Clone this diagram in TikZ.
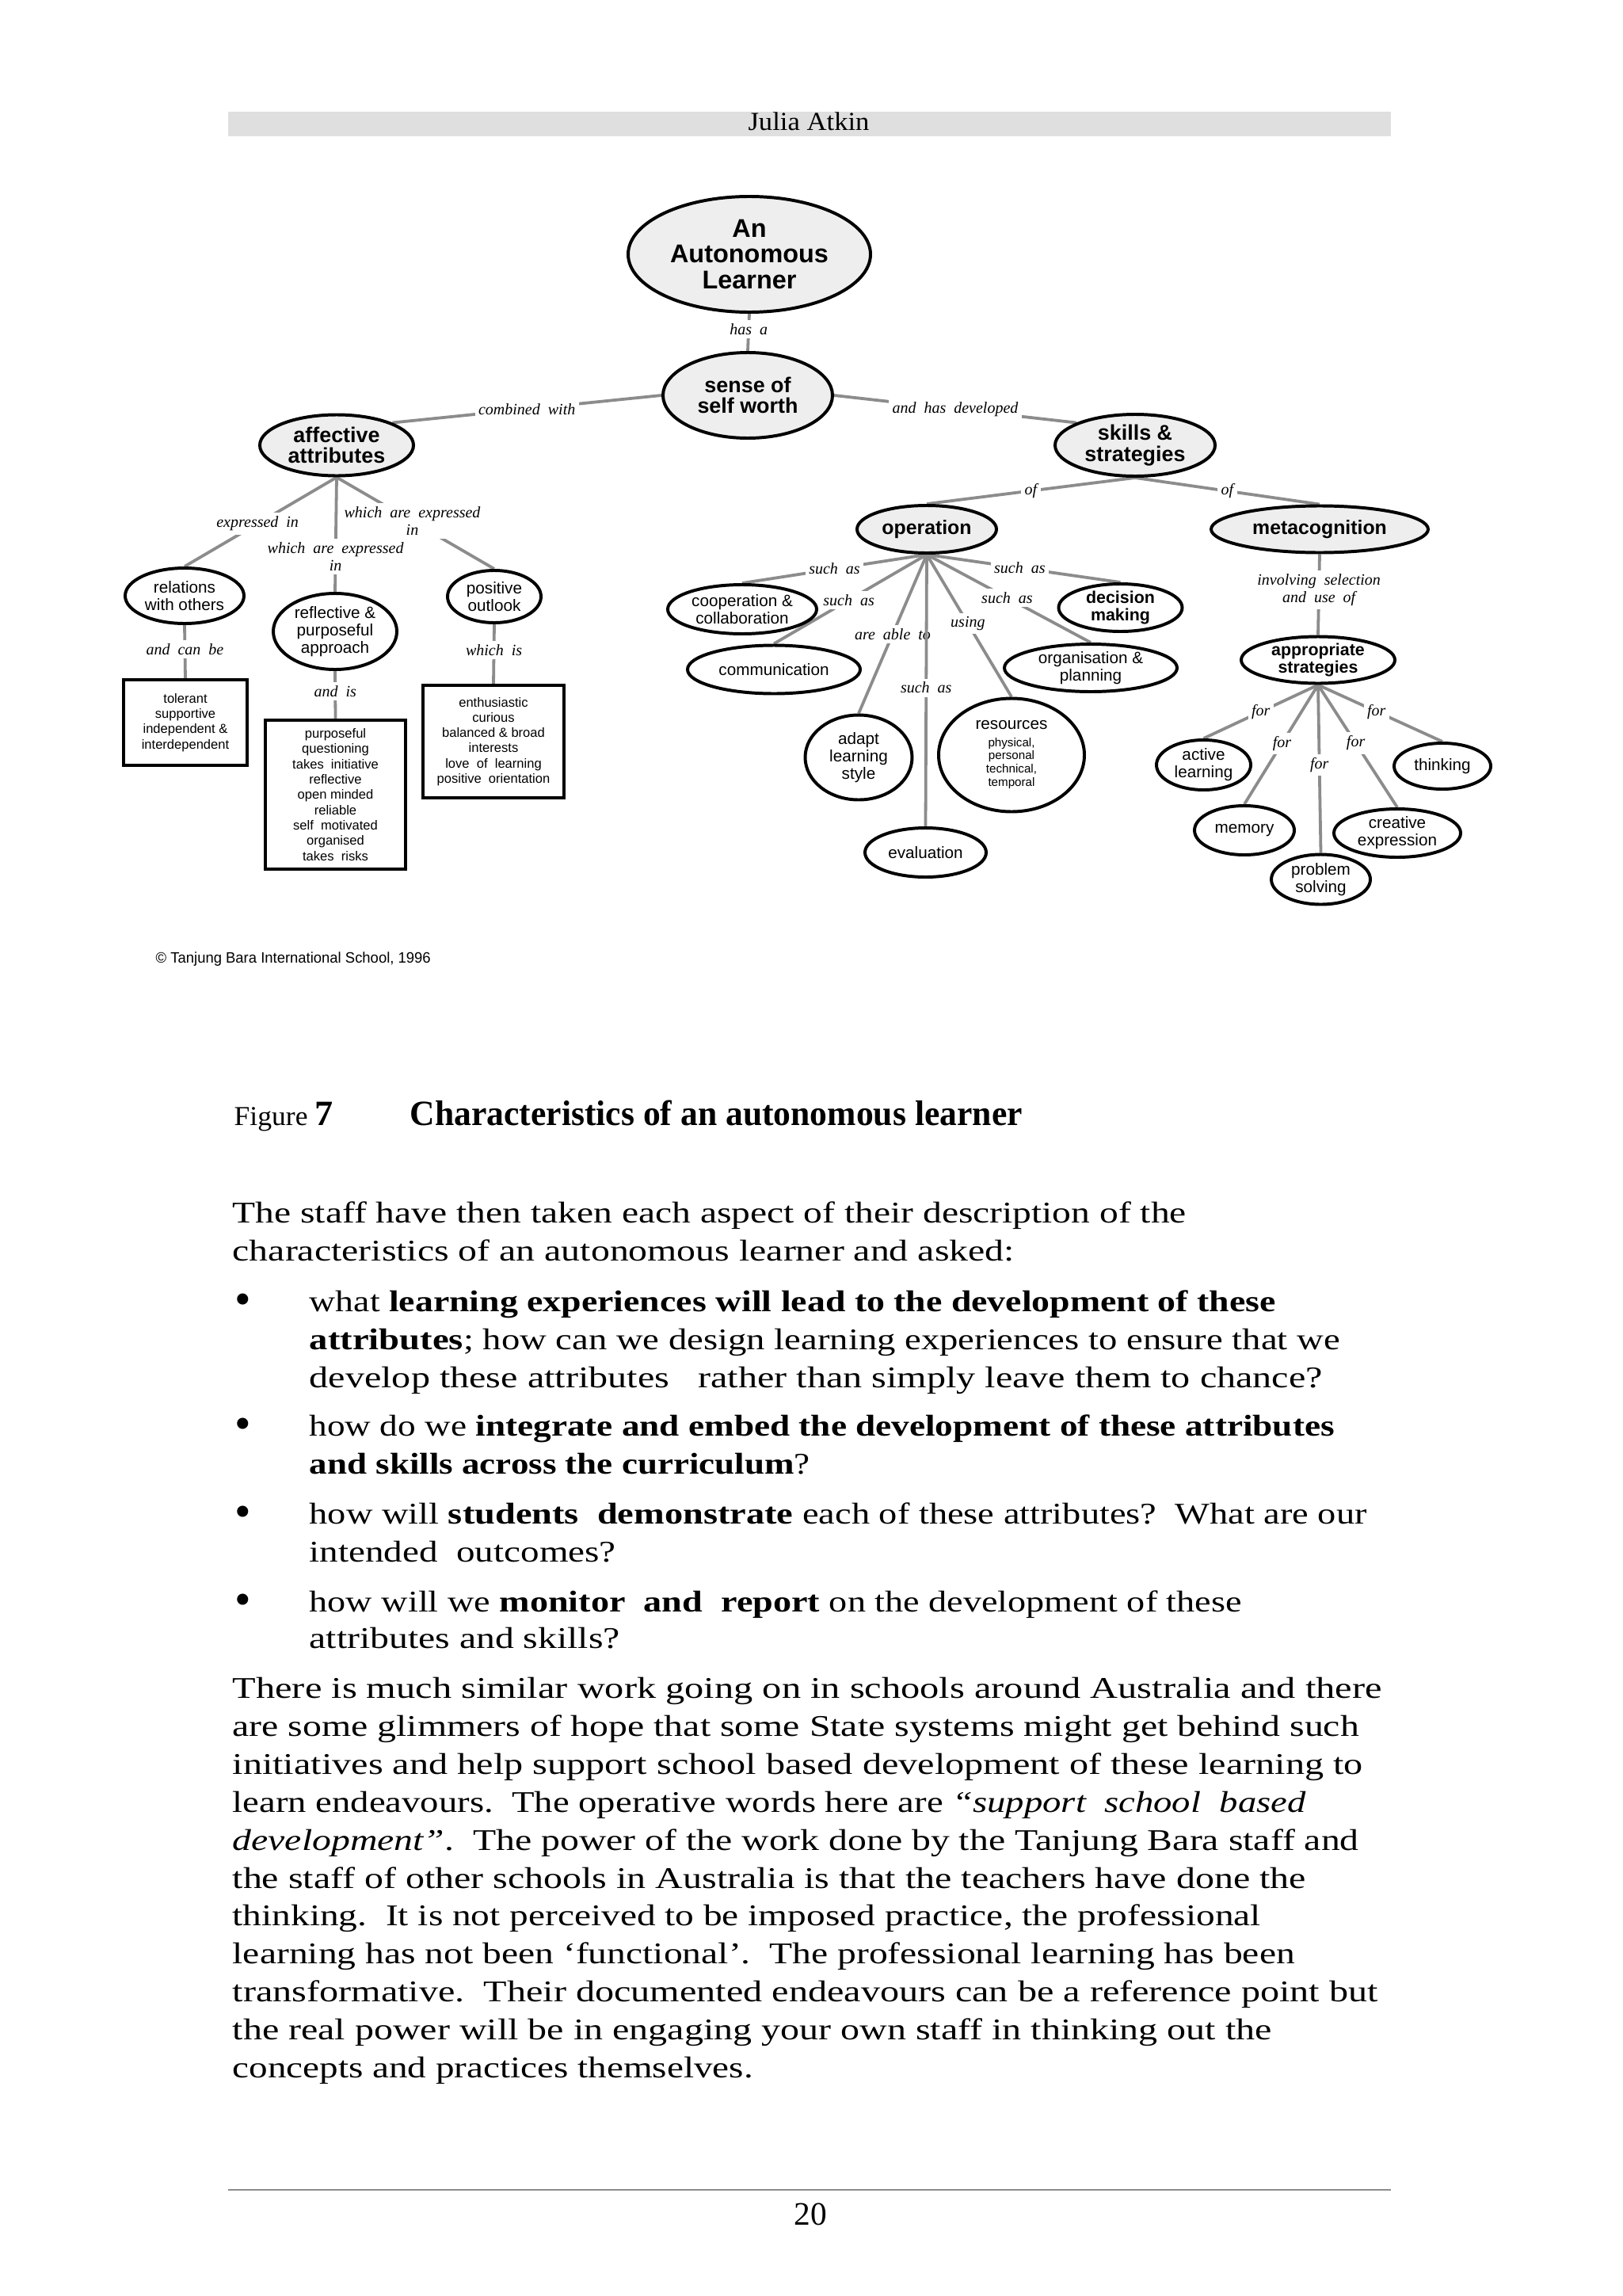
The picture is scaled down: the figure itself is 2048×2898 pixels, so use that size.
\documentclass[tikz,border=0pt]{standalone}
\usepackage{graphicx}
\usepackage{fontspec}
\setmainfont{Liberation Serif}
\setsansfont{Liberation Sans}
\usetikzlibrary{shapes.geometric,backgrounds}
\newlength\unitpx
\setlength\unitpx{0.29pt}
\newcommand\fitw[2]{\resizebox{#1\unitpx}{\height}{#2}}
\newcommand\bigbul{\raisebox{-1.3pt}{\scalebox{1.55}{\textbullet}}}
\definecolor{lnc}{gray}{0.55}
\definecolor{gfill}{gray}{0.935}
\definecolor{band}{gray}{0.875}
\definecolor{rulec}{gray}{0.55}
\begin{document}
\begin{tikzpicture}[x=0.29pt,y=-0.29pt,
  rxy/.style 2 args={minimum width=#1*0.58pt, minimum height=#2*0.58pt},
  ell/.style={ellipse, draw=black, line width=1.15pt, inner sep=-1.5pt, align=center},
  gell/.style={ell, fill=gfill},
  well/.style={ell, fill=white},
  ftop/.style={font=\fontsize{9.4}{9.3}\selectfont\sffamily\bfseries},
  fmid/.style={font=\fontsize{7.8}{7.6}\selectfont\sffamily\bfseries},
  fop/.style={font=\fontsize{7.2}{7.2}\selectfont\sffamily\bfseries},
  fsm/.style={font=\fontsize{6}{6.4}\selectfont\sffamily},
  fsmb/.style={font=\fontsize{6.2}{6.4}\selectfont\sffamily\bfseries},
  bx/.style={draw=black, line width=1.15pt, fill=white, inner sep=0pt, align=center, font=\fontsize{4.8}{5.6}\selectfont\sffamily},
  con/.style={draw=lnc, line width=1.1pt},
  lbl/.style={fill=white, inner sep=1.3pt, align=center, font=\fontsize{5.8}{6.4}\selectfont\itshape},
  bodyt/.style={anchor=base west, inner sep=0pt, font=\fontsize{11}{13}\selectfont},
]
\useasboundingbox (0,0) rectangle (2048,2898);

% header
\node[fill=band, minimum width=1468*0.29pt, minimum height=31*0.29pt, inner sep=0pt] (hdr) at (1022,156.5) {};
\node[anchor=base, inner sep=0pt, font=\fontsize{9.5}{10}\selectfont] (hname) at (1021,165) {\fitw{153}{Julia Atkin}};

% main concepts
\node[gell, rxy={153}{73}, ftop] (N0) at (946,321) {An\\Autonomous\\Learner};
\node[gell, rxy={107}{54}, fmid] (N1) at (944,499) {sense of\\self worth};
\node[gell, rxy={97}{38.5}, fmid] (N2) at (425,562) {affective\\attributes};
\node[gell, rxy={101}{39}, fmid] (N3) at (1433,562) {skills \&\\strategies};

% affective branch
\node[well, rxy={75}{35}, fsm] (R1) at (233,752) {relations\\with others};
\node[well, rxy={78}{48}, fsm] (R2) at (423,797) {reflective \&\\purposeful\\approach};
\node[well, rxy={59}{33}, fsm] (R3) at (624,753) {positive\\outlook};
\node[bx, minimum width=156*0.29pt, minimum height=108*0.29pt] (B1) at (234,912) {tolerant\\supportive\\independent \&\\interdependent};
\node[bx, minimum width=177*0.29pt, minimum height=188*0.29pt] (B2) at (423.5,1003) {purposeful\\questioning\\takes\ \ initiative\\reflective\\open minded\\reliable\\self\ \ motivated\\organised\\takes\ \ risks};
\node[bx, minimum width=178*0.29pt, minimum height=142*0.29pt] (B3) at (623,936) {enthusiastic\\curious\\balanced \& broad\\interests\\love\ \ of\ \ learning\\positive\ \ orientation};

% skills branch
\node[gell, rxy={88}{30}, fop] (O) at (1170,668) {operation};
\node[gell, rxy={137}{29.5}, fop] (M) at (1666,668) {metacognition};
\node[well, rxy={94}{31}, fsm] (O1) at (937,769) {cooperation \&\\collaboration};
\node[well, rxy={109}{30.5}, fsm] (O2) at (977,845) {communication};
\node[well, rxy={67.5}{53.5}, fsm] (O3) at (1084,956) {adapt\\learning\\style};
\node[well, rxy={76.5}{31}, fsm] (O4) at (1168.5,1076) {evaluation};
\node[well, rxy={92}{71.5}, font=\fontsize{4.4}{4.9}\selectfont\sffamily] (O5) at (1277,953) {\begin{tabular}{@{}c@{}}{\fontsize{6}{6}\selectfont resources}\\[1.5pt]physical,\\personal\\technical,\\temporal\end{tabular}};
\node[well, rxy={109}{30}, fsm] (O6) at (1377,843) {organisation \&\\planning};
\node[well, rxy={78}{30}, fsmb] (O7) at (1414.5,767) {decision\\making};

\node[well, rxy={97}{29.5}, fsmb] (A) at (1664,833) {appropriate\\strategies};
\node[well, rxy={59.5}{31.5}, fsm] (A1) at (1519.5,965.5) {active\\learning};
\node[well, rxy={63}{31}, fsm] (A2) at (1571,1048) {memory};
\node[well, rxy={62.5}{31.5}, fsm] (A3) at (1667.5,1110) {problem\\solving};
\node[well, rxy={80}{30.5}, fsm] (A4) at (1764,1051.5) {creative\\expression};
\node[well, rxy={61}{29}, fsm] (A5) at (1821,967) {thinking};

% connectors
\begin{scope}[on background layer]
\draw[con] (N0.south) -- node[lbl,pos=0.41]{has\ \ a} (N1.north);
\draw[con] (N1.west) -- node[lbl]{combined\ \ with} (N2.22);
\draw[con] (N1.east) -- node[lbl]{and\ \ has\ \ developed} (N3.159);
\draw[con] (N2.south) -- node[lbl,pos=0.52]{expressed\ \ in} (R1.north);
\draw[con] (N2.south) -- node[lbl,pos=0.69]{which\ \ are\ \ expressed\\in} (R2.north);
\draw[con] (N2.south) -- node[lbl,pos=0.48]{which\ \ are\ \ expressed\\in} (R3.north);
\draw[con] (R1.south) -- node[lbl,pos=0.46]{and\ \ can\ \ be} (B1.north);
\draw[con] (R2.south) -- node[lbl,pos=0.42]{and\ \ is} (B2.north);
\draw[con] (R3.south) -- node[lbl,pos=0.43]{which\ \ is} (B3.north);
\draw[con] (N3.south) -- node[lbl]{of} (O.north);
\draw[con] (N3.south) -- node[lbl]{of} (M.north);
\draw[con] (O.south) -- node[lbl,pos=0.5]{such\ \ as} (O1.north);
\draw[con] (O.south) -- node[lbl,pos=0.51]{such\ \ as} (O2.north);
\draw[con] (O.south) -- node[lbl,pos=0.5]{are\ \ able\ \ to} (O3.north);
\draw[con] (O.south) -- node[lbl,pos=0.49]{such\ \ as} (O4.north);
\draw[con] (O.south) -- node[lbl,pos=0.485]{using} (O5.north);
\draw[con] (O.south) -- node[lbl,pos=0.49]{such\ \ as} (O6.north);
\draw[con] (O.south) -- node[lbl,pos=0.48]{such\ \ as} (O7.north);
\draw[con] (M.south) -- node[lbl,pos=0.44]{involving\ \ selection\\and\ \ use\ \ of} (A.north);
\draw[con] (A.south) -- node[lbl,pos=0.5]{for} (A1.north);
\draw[con] (A.south) -- node[lbl,pos=0.49]{for} (A2.north);
\draw[con] (A.south) -- node[lbl,pos=0.475]{for} (A3.north);
\draw[con] (A.south) -- node[lbl,pos=0.476]{for} (A4.north);
\draw[con] (A.south) -- node[lbl,pos=0.47]{for} (A5.north);
\end{scope}

% copyright
\node[anchor=base west, inner sep=0pt, font=\fontsize{5.5}{6}\selectfont\sffamily] (copy) at (196,1215) {\fitw{347}{© Tanjung Bara International School, 1996}};

% caption
\node[anchor=base west, inner sep=0pt] (fig) at (295,1420) {\fitw{125}{\fontsize{10}{12}\selectfont Figure \fontsize{13}{15}\selectfont\bfseries 7}};
\node[anchor=base west, inner sep=0pt] (cap) at (517,1420) {\fitw{773}{\fontsize{13}{15}\selectfont\bfseries Characteristics of an autonomous learner}};

% body text
\node[bodyt] (t1) at (293,1543) {\fitw{1204}{The staff have then taken each aspect of their description of the}};
\node[bodyt] (t2) at (293,1591) {\fitw{987}{characteristics of an autonomous learner and asked:}};
\node[bodyt] (bu1) at (296,1655) {\bigbul};
\node[bodyt] (b1a) at (390,1655) {\fitw{1220}{what \textbf{learning experiences will lead to the development of these}}};
\node[bodyt] (b1b) at (390,1703) {\fitw{1301}{\textbf{attributes}; how can we design learning experiences to ensure that we}};
\node[bodyt] (b1c) at (390,1751) {\fitw{1279}{develop these attributes\ \ \ rather than simply leave them to chance?}};
\node[bodyt] (bu2) at (296,1812) {\bigbul};
\node[bodyt] (b2a) at (390,1812) {\fitw{1294}{how do we \textbf{integrate and embed the development of these attributes}}};
\node[bodyt] (b2b) at (390,1860) {\fitw{632}{\textbf{and skills across the curriculum}?}};
\node[bodyt] (bu3) at (296,1923) {\bigbul};
\node[bodyt] (b3a) at (390,1923) {\fitw{1335}{how will \textbf{students\ \ demonstrate} each of these attributes?\ \ What are our}};
\node[bodyt] (b3b) at (390,1971) {\fitw{387}{intended\ \ outcomes?}};
\node[bodyt] (bu4) at (296,2034) {\bigbul};
\node[bodyt] (b4a) at (390,2034) {\fitw{1177}{how will we \textbf{monitor\ \ and\ \ report} on the development of these}};
\node[bodyt] (b4b) at (390,2080) {\fitw{392}{attributes and skills?}};

\node[bodyt] (p1) at (293,2143) {\fitw{1451}{There is much similar work going on in schools around Australia and there}};
\node[bodyt] (p2) at (293,2191) {\fitw{1422}{are some glimmers of hope that some State systems might get behind such}};
\node[bodyt] (p3) at (293,2239) {\fitw{1427}{initiatives and help support school based development of these learning to}};
\node[bodyt] (p4) at (293,2287) {\fitw{1355}{learn endeavours.\ \ The operative words here are \textit{“support\ \ school\ \ based}}};
\node[bodyt] (p5) at (293,2335) {\fitw{1422}{\textit{development”}.\ \ The power of the work done by the Tanjung Bara staff and}};
\node[bodyt] (p6) at (293,2383) {\fitw{1355}{the staff of other schools in Australia is that the teachers have done the}};
\node[bodyt] (p7) at (293,2430) {\fitw{1298}{thinking.\ \ It is not perceived to be imposed practice, the professional}};
\node[bodyt] (p8) at (293,2478) {\fitw{1341}{learning has not been ‘functional’.\ \ The professional learning has been}};
\node[bodyt] (p9) at (293,2526) {\fitw{1446}{transformative.\ \ Their documented endeavours can be a reference point but}};
\node[bodyt] (p10) at (293,2574) {\fitw{1312}{the real power will be in engaging your own staff in thinking out the}};
\node[bodyt] (p11) at (293,2622) {\fitw{657}{concepts and practices themselves.}};

% footer
\draw[draw=rulec, line width=0.6pt] (288,2764) -- (1756,2764);
\node[anchor=base, inner sep=0pt, font=\fontsize{12}{14}\selectfont] (pg) at (1023,2808) {20};
\end{tikzpicture}
\end{document}
